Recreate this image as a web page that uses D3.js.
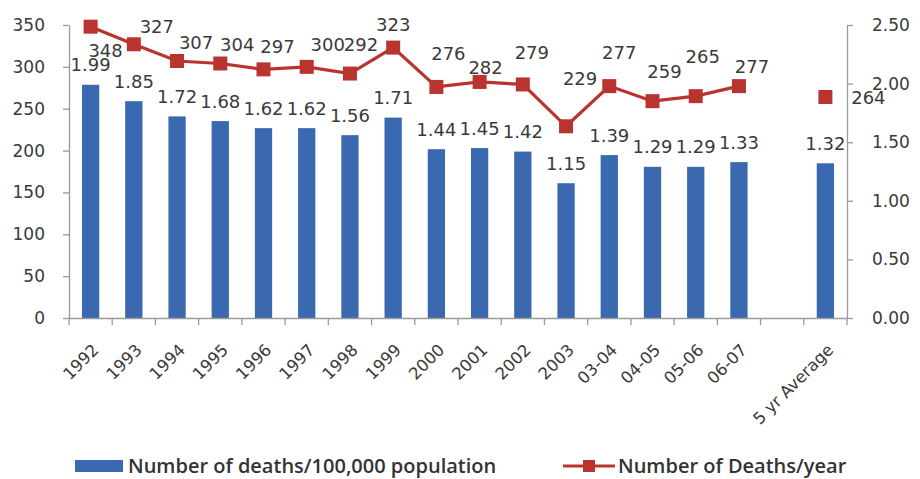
<!DOCTYPE html>
<html>
<head>
<meta charset="utf-8">
<script src="https://cdn.jsdelivr.net/npm/d3@7"></script>
<style>
  body { margin: 0; background: #fff; }
  svg { display: block; }
</style>
</head>
<body>
<div id="chart"></div>
<script>
// CATEGORIES ON THE X AXIS (EMPTY SLOT BEFORE THE AVERAGE)
var categories = ['1992', '1993', '1994', '1995', '1996', '1997', '1998', '1999', '2000', '2001',
   '2002', '2003', '03-04', '04-05', '05-06', '06-07', '', '5 yr Average'];

// NUMBER OF DEATHS PER YEAR (LEFT AXIS, LINE)
var deathsPerYear = [348, 327, 307, 304, 297, 300, 292, 323, 276, 282, 279, 229, 277, 259, 265, 277, null, 264];

// DEATHS PER 100,000 POPULATION (RIGHT AXIS, BARS)
var deathsPerPop = [1.99, 1.85, 1.72, 1.68, 1.62, 1.62, 1.56, 1.71, 1.44, 1.45, 1.42, 1.15, 1.39, 1.29, 1.29, 1.33, null, 1.32];

// TICK VALUES
var leftTicks = [0, 50, 100, 150, 200, 250, 300, 350];
var rightTicks = [0, 0.5, 1, 1.5, 2, 2.5];

// LEGEND TEXT
var legendNames = ['Number of deaths/100,000 population', 'Number of Deaths/year'];

// SETTINGS
var settings = {
   width: 920,
   height: 479,
   left: 69,
   right: 847,
   top: 25,
   bottom: 318,
   colors: { bar: '#3a69b0', line: '#b9342f', axis: '#9a9a9a', text: '#3a3a3a' },
   font: '"DejaVu Sans", Verdana, sans-serif'
};

// LABEL SHIFTS FOR THE LINE LABELS (PLACED BY HAND IN THE ORIGINAL)
var lineLabelShift = [[15, 24], [23, -18], [19, -18], [17, -19], [14, -23], [21, -22], [11, -29], [0, -23],
   [12, -33], [6, -14], [9, -32], [14, -48], [10, -34], [12, -30], [7, -40], [13, -20], null, [43, 1]];

var svg = d3.select('#chart').append('svg')
   .attr('width', settings.width)
   .attr('height', settings.height);

// SCALES
var x = d3.scaleBand()
   .domain(d3.range(categories.length))
   .range([settings.left, settings.right])
   .padding(0);

var yLeft = d3.scaleLinear()
   .domain([0, 350])
   .range([settings.bottom, settings.top]);

var yRight = d3.scaleLinear()
   .domain([0, 2.5])
   .range([settings.bottom, settings.top]);

var barWidth = x.bandwidth() * 0.4;
var cx = (i) => x(i) + x.bandwidth() / 2;

// BARS
svg.selectAll('.bar').data(deathsPerPop).enter()
   .append('rect')
   .attr('class', 'bar')
   .attr('display', (d) => d == null ? 'none' : null)
   .attr('x', (d, i) => cx(i) - barWidth / 2)
   .attr('y', (d) => yRight(d || 0))
   .attr('width', barWidth)
   .attr('height', (d) => settings.bottom - yRight(d || 0))
   .attr('fill', settings.colors.bar);

// AXES
function styleAxis(g) {
   g.selectAll('path, line').attr('stroke', settings.colors.axis).attr('stroke-width', 1.3);
   g.selectAll('text')
      .attr('fill', settings.colors.text)
      .style('font-family', settings.font)
      .style('font-size', '17px');
}

svg.append('g')
   .attr('transform', 'translate(' + settings.left + ',0)')
   .call(d3.axisLeft(yLeft).tickValues(leftTicks).tickSize(6).tickSizeOuter(0).tickPadding(18))
   .call(styleAxis);

svg.append('g')
   .attr('transform', 'translate(' + settings.right + ',0)')
   .call(d3.axisRight(yRight).tickValues(rightTicks).tickSize(6).tickSizeOuter(0).tickPadding(19)
      .tickFormat(d3.format('.2f')))
   .call(styleAxis);

var xAxis = svg.append('g')
   .attr('transform', 'translate(0,' + settings.bottom + ')')
   .call(d3.axisBottom(x).tickSize(0).tickSizeOuter(0).tickFormat(''));

// TICKS ON CATEGORY BOUNDARIES
xAxis.selectAll('.edge').data(d3.range(categories.length + 1)).enter()
   .append('line')
   .attr('class', 'edge')
   .attr('x1', (d) => settings.left + d * x.step())
   .attr('x2', (d) => settings.left + d * x.step())
   .attr('y1', 0)
   .attr('y2', 7);
xAxis.call(styleAxis);

// ROTATED CATEGORY LABELS
svg.selectAll('.cat').data(categories).enter()
   .append('text')
   .attr('class', 'cat')
   .attr('transform', (d, i) => 'translate(' + (cx(i) + 9) + ',' + (settings.bottom + 33) + ') rotate(-45)')
   .attr('text-anchor', 'end')
   .attr('fill', settings.colors.text)
   .style('font-family', settings.font)
   .style('font-size', '16.5px')
   .text((d) => d);

// LINE
var pathify = d3.line()
   .defined((d) => d != null)
   .x((d, i) => cx(i))
   .y((d) => yLeft(d));

svg.append('path')
   .attr('d', pathify(deathsPerYear))
   .attr('fill', 'none')
   .attr('stroke', settings.colors.line)
   .attr('stroke-width', 3.2);

// SQUARE MARKERS
var m = 14;
svg.selectAll('.marker').data(deathsPerYear).enter()
   .append('rect')
   .attr('class', 'marker')
   .attr('display', (d) => d == null ? 'none' : null)
   .attr('x', (d, i) => cx(i) - m / 2)
   .attr('y', (d) => yLeft(d || 0) - m / 2)
   .attr('width', m)
   .attr('height', m)
   .attr('fill', settings.colors.line);

// BAR LABELS
svg.selectAll('.barlabel').data(deathsPerPop).enter()
   .append('text')
   .attr('class', 'barlabel')
   .attr('display', (d) => d == null ? 'none' : null)
   .attr('x', (d, i) => cx(i))
   .attr('y', (d) => yRight(d || 0) - 20)
   .attr('dy', '0.36em')
   .attr('text-anchor', 'middle')
   .attr('fill', settings.colors.text)
   .style('font-family', settings.font)
   .style('font-size', '18px')
   .text((d) => d == null ? '' : d.toFixed(2));

// LINE LABELS
svg.selectAll('.linelabel').data(deathsPerYear).enter()
   .append('text')
   .attr('class', 'linelabel')
   .attr('display', (d) => d == null ? 'none' : null)
   .attr('x', (d, i) => cx(i) + (lineLabelShift[i] ? lineLabelShift[i][0] : 0))
   .attr('y', (d, i) => yLeft(d || 0) + (lineLabelShift[i] ? lineLabelShift[i][1] : 0))
   .attr('dy', '0.36em')
   .attr('text-anchor', 'middle')
   .attr('fill', settings.colors.text)
   .style('font-family', settings.font)
   .style('font-size', '18px')
   .text((d) => d == null ? '' : d);

// LEGEND
var legend = svg.append('g').attr('transform', 'translate(0,466)');

legend.append('rect')
   .attr('x', 75).attr('y', -6).attr('width', 48).attr('height', 12)
   .attr('fill', settings.colors.bar);

legend.append('line')
   .attr('x1', 563).attr('x2', 615).attr('y1', 0).attr('y2', 0)
   .attr('stroke', settings.colors.line).attr('stroke-width', 3.2);

legend.append('rect')
   .attr('x', 583).attr('y', -6).attr('width', 12).attr('height', 12)
   .attr('fill', settings.colors.line);

legend.selectAll('.legtext').data(legendNames).enter()
   .append('text')
   .attr('class', 'legtext')
   .attr('x', (d, i) => i === 0 ? 128 : 618)
   .attr('y', 0)
   .attr('dy', '0.34em')
   .attr('fill', '#333')
   .style('font-family', '"Open Sans", Lato, sans-serif')
   .style('font-weight', 600)
   .style('font-size', '20px')
   .text((d) => d);
</script>
</body>
</html>
